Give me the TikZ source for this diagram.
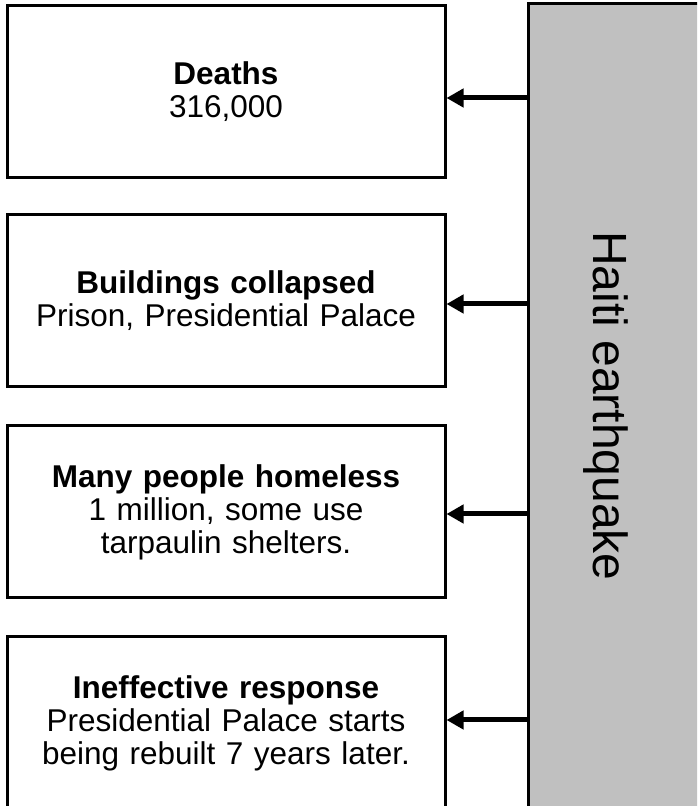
\documentclass[tikz,border=0pt]{standalone}
\usepackage{fontspec}
\setmainfont{Liberation Sans}
\usetikzlibrary{arrows.meta, positioning}
\definecolor{quakegrey}{RGB}{192,192,192}

\begin{document}
\begin{tikzpicture}[x=1pt, y=1pt, >={Triangle[length=17pt, width=18pt]}]

	\tikzstyle{effect}=[rectangle, draw=black, line width=3pt, fill=white, minimum width=438pt, minimum height=172pt, text width=430pt, align=center, inner sep=0pt, font=\fontsize{31.5}{33}\selectfont]
	\tikzstyle{cause}=[rectangle, draw=black, line width=3pt, fill=quakegrey, minimum width=212pt, minimum height=804pt, inner sep=0pt]
	\tikzstyle{link}=[->, line width=5pt]

	\clip (0,0) rectangle (697,806);

	\node at (634,400) (haiti) [cause] {};
	\node at ([xshift=79pt]haiti.west) (title) [rotate=-90, font=\fontsize{48}{56}\selectfont] {Haiti earthquake};

	\node at (226,714) (deaths) [effect] {\textbf{Deaths}\\316,000};
	\node at (226,505) (buildings) [effect] {\textbf{Buildings collapsed}\\Prison, Presidential Palace};
	\node at (226,294) (homeless) [effect] {\textbf{Many people homeless}\\1 million, some use\\tarpaulin shelters.};
	\node at (226,83) (response) [effect] {\textbf{Ineffective response}\\Presidential Palace starts\\being rebuilt 7 years later.};

	\draw[link] ([yshift=-6pt]haiti.west |- deaths) -- ([yshift=-6pt]deaths.east);
	\draw[link] ([yshift=-3pt]haiti.west |- buildings) -- ([yshift=-3pt]buildings.east);
	\draw[link] ([yshift=-2pt]haiti.west |- homeless) -- ([yshift=-2pt]homeless.east);
	\draw[link] ([yshift=3pt]haiti.west |- response) -- ([yshift=3pt]response.east);
\end{tikzpicture}
\end{document}
